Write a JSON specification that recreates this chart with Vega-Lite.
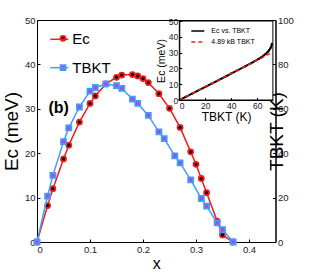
{
  "$schema": "https://vega.github.io/schema/vega-lite/v6.json",
  "padding": {"left": 2, "top": 15, "right": 0, "bottom": 0},
  "background": "white",
  "width": 238.5,
  "height": 222,
  "config": {
    "font": "Liberation Sans",
    "view": {"stroke": "black", "strokeWidth": 1},
    "axis": {"grid": false, "domainColor": "black", "tickColor": "black", "labelColor": "#222222", "titleColor": "black", "titleFontWeight": "normal", "labelFont": "Liberation Sans", "titleFont": "Liberation Sans"},
    "legend": {"labelFont": "Liberation Sans", "labelColor": "black"},
    "text": {"font": "Liberation Sans"}
  },
  "datasets": {
    "ec": [
      {"x": 0, "Ec": 0, "s": "Ec"}, {"x": 0.02, "Ec": 8.2, "s": "Ec"}, {"x": 0.03, "Ec": 12.0, "s": "Ec"},
      {"x": 0.05, "Ec": 18.7, "s": "Ec"}, {"x": 0.06, "Ec": 21.8, "s": "Ec"}, {"x": 0.08, "Ec": 27.0, "s": "Ec"},
      {"x": 0.1, "Ec": 31.2, "s": "Ec"}, {"x": 0.11, "Ec": 32.9, "s": "Ec"}, {"x": 0.13, "Ec": 35.6, "s": "Ec"},
      {"x": 0.15, "Ec": 37.1, "s": "Ec"}, {"x": 0.16, "Ec": 37.6, "s": "Ec"}, {"x": 0.18, "Ec": 37.7, "s": "Ec"},
      {"x": 0.19, "Ec": 37.4, "s": "Ec"}, {"x": 0.2, "Ec": 36.8, "s": "Ec"}, {"x": 0.21, "Ec": 35.9, "s": "Ec"},
      {"x": 0.23, "Ec": 33.4, "s": "Ec"}, {"x": 0.25, "Ec": 30.1, "s": "Ec"}, {"x": 0.27, "Ec": 25.8, "s": "Ec"},
      {"x": 0.29, "Ec": 20.3, "s": "Ec"}, {"x": 0.3, "Ec": 17.5, "s": "Ec"}, {"x": 0.31, "Ec": 14.3, "s": "Ec"},
      {"x": 0.32, "Ec": 11.1, "s": "Ec"}, {"x": 0.34, "Ec": 4.7, "s": "Ec"}, {"x": 0.35, "Ec": 1.6, "s": "Ec"},
      {"x": 0.37, "Ec": 0, "s": "Ec"}
    ],
    "tb": [
      {"x": 0, "T": 0, "s": "TBKT"}, {"x": 0.02, "T": 20.7, "s": "TBKT"}, {"x": 0.03, "T": 30.0, "s": "TBKT"},
      {"x": 0.05, "T": 45.2, "s": "TBKT"}, {"x": 0.06, "T": 51.4, "s": "TBKT"}, {"x": 0.08, "T": 60.8, "s": "TBKT"},
      {"x": 0.1, "T": 68.0, "s": "TBKT"}, {"x": 0.11, "T": 69.6, "s": "TBKT"}, {"x": 0.13, "T": 71.2, "s": "TBKT"},
      {"x": 0.15, "T": 70.4, "s": "TBKT"}, {"x": 0.16, "T": 69.2, "s": "TBKT"}, {"x": 0.18, "T": 64.4, "s": "TBKT"},
      {"x": 0.19, "T": 62.4, "s": "TBKT"}, {"x": 0.21, "T": 57.0, "s": "TBKT"}, {"x": 0.23, "T": 49.6, "s": "TBKT"},
      {"x": 0.24, "T": 46.6, "s": "TBKT"}, {"x": 0.26, "T": 38.8, "s": "TBKT"}, {"x": 0.27, "T": 35.6, "s": "TBKT"},
      {"x": 0.29, "T": 28.0, "s": "TBKT"}, {"x": 0.31, "T": 19.6, "s": "TBKT"}, {"x": 0.32, "T": 16.2, "s": "TBKT"},
      {"x": 0.34, "T": 8.6, "s": "TBKT"}, {"x": 0.35, "T": 5.6, "s": "TBKT"}, {"x": 0.37, "T": 0, "s": "TBKT"}
    ],
    "blk": [
      {"T": 0, "E": 0, "k": "Ec vs. TBKT"}, {"T": 5, "E": 2.0, "k": "Ec vs. TBKT"}, {"T": 10, "E": 4.1, "k": "Ec vs. TBKT"},
      {"T": 15, "E": 6.2, "k": "Ec vs. TBKT"}, {"T": 20, "E": 8.3, "k": "Ec vs. TBKT"}, {"T": 25, "E": 10.4, "k": "Ec vs. TBKT"},
      {"T": 30, "E": 12.5, "k": "Ec vs. TBKT"}, {"T": 35, "E": 14.6, "k": "Ec vs. TBKT"}, {"T": 40, "E": 16.8, "k": "Ec vs. TBKT"},
      {"T": 45, "E": 18.9, "k": "Ec vs. TBKT"}, {"T": 50, "E": 21.0, "k": "Ec vs. TBKT"}, {"T": 55, "E": 23.2, "k": "Ec vs. TBKT"},
      {"T": 58, "E": 24.6, "k": "Ec vs. TBKT"}, {"T": 61, "E": 26.0, "k": "Ec vs. TBKT"}, {"T": 63, "E": 27.0, "k": "Ec vs. TBKT"},
      {"T": 65, "E": 28.2, "k": "Ec vs. TBKT"}, {"T": 66.5, "E": 29.2, "k": "Ec vs. TBKT"}, {"T": 68, "E": 30.4, "k": "Ec vs. TBKT"},
      {"T": 69, "E": 31.4, "k": "Ec vs. TBKT"}, {"T": 70, "E": 32.6, "k": "Ec vs. TBKT"}, {"T": 70.7, "E": 33.8, "k": "Ec vs. TBKT"},
      {"T": 71.2, "E": 35.5, "k": "Ec vs. TBKT"}
    ],
    "fit": [
      {"T": 0, "E": 0, "k": "4.89 kB TBKT"}, {"T": 72, "E": 30.3, "k": "4.89 kB TBKT"}
    ],
    "box": [
      {"T0": 0, "T1": 72, "E0": 0, "E1": 50}
    ]
  },
  "layer": [
    {
      "layer": [
        {
          "data": {"name": "ec"},
          "encoding": {
            "x": {"field": "x", "type": "quantitative", "scale": {"domain": [0, 0.45], "nice": false},
              "axis": {"orient": "bottom", "values": [0, 0.05, 0.1, 0.15, 0.2, 0.25, 0.3, 0.35, 0.4], "format": "~g", "title": "x", "titleFontSize": 16, "titlePadding": 2, "labelFontSize": 9.5, "tickSize": -3, "labelPadding": 5}},
            "y": {"field": "Ec", "type": "quantitative", "scale": {"domain": [0, 50], "nice": false},
              "axis": {"orient": "left", "values": [0, 10, 20, 30, 40, 50], "title": "Ec (meV)", "titleFontSize": 19, "titlePadding": 3, "labelFontSize": 9.5, "tickSize": -3, "labelPadding": 5}}
          },
          "layer": [
            {"mark": {"type": "line", "strokeWidth": 1.5},
              "encoding": {"color": {"field": "s", "type": "nominal", "scale": {"range": ["#f21b1b", "#3ea0f5"]},
                "legend": {"orient": "none", "legendX": 12.3, "legendY": 9.3, "title": null, "symbolType": "stroke", "symbolSize": 324, "symbolStrokeWidth": 1.5, "labelFontSize": 15, "labelOffset": 3, "rowPadding": 10.4, "padding": 0}}}},
            {"mark": {"type": "point", "filled": true, "size": 25, "strokeWidth": 1.8, "opacity": 1},
              "encoding": {
                "shape": {"field": "s", "type": "nominal", "scale": {"domain": ["Ec", "TBKT"], "range": ["circle", "square"]},
                  "legend": {"orient": "none", "legendX": 18.5, "legendY": 10.8, "title": null, "symbolSize": 25, "symbolStrokeWidth": 1.8, "labelFontSize": 15, "labelOpacity": 0, "rowPadding": 13.4, "padding": 0}},
                "fill": {"field": "s", "type": "nominal", "scale": {"domain": ["Ec", "TBKT"], "range": ["black", "#b440e8"]}},
                "stroke": {"field": "s", "type": "nominal", "scale": {"domain": ["Ec", "TBKT"], "range": ["#f21b1b", "#3ea0f5"]}}
              }}
          ]
        },
        {
          "data": {"name": "tb"},
          "encoding": {
            "x": {"field": "x", "type": "quantitative"},
            "y": {"field": "T", "type": "quantitative", "scale": {"domain": [0, 100], "nice": false},
              "axis": {"orient": "right", "values": [0, 20, 40, 60, 80, 100], "title": "TBKT (K)", "titleFontSize": 19, "titleAngle": 270, "titlePadding": -7, "labelFontSize": 9.5, "tickSize": -3, "labelPadding": 5}}
          },
          "layer": [
            {"mark": {"type": "line", "strokeWidth": 1.5}, "encoding": {"color": {"field": "s", "type": "nominal"}}},
            {"mark": {"type": "point", "filled": true, "size": 25, "strokeWidth": 1.8, "opacity": 1},
              "encoding": {
                "shape": {"field": "s", "type": "nominal"},
                "fill": {"field": "s", "type": "nominal"},
                "stroke": {"field": "s", "type": "nominal"}
              }}
          ]
        },
        {
          "data": {"values": [{"x": 0.041, "y": 30.2, "t": "(b)"}]},
          "mark": {"type": "text", "fontWeight": "bold", "fontSize": 16, "align": "center", "baseline": "middle"},
          "encoding": {
            "x": {"field": "x", "type": "quantitative"},
            "y": {"field": "y", "type": "quantitative", "scale": {"domain": [0, 50]}, "axis": null},
            "text": {"field": "t"}
          }
        }
      ],
      "resolve": {"scale": {"y": "independent"}}
    },
    {
      "layer": [
        {"data": {"name": "box"}, "mark": {"type": "rect", "fill": "white", "stroke": "black", "strokeWidth": 1},
          "encoding": {
            "x": {"field": "T0", "type": "quantitative", "scale": {"domain": [0, 72], "nice": false, "range": [142.3, 235.9]},
              "axis": {"orient": "bottom", "offset": -142, "zindex": 1, "values": [0, 20, 40, 60], "title": "TBKT (K)", "titleFontSize": 12, "titlePadding": 1, "labelFontSize": 8.5, "tickSize": -2.5, "labelPadding": 4}},
            "x2": {"field": "T1"},
            "y": {"field": "E0", "type": "quantitative", "scale": {"domain": [0, 50], "nice": false, "range": [80, 1]},
              "axis": {"orient": "left", "offset": -142.3, "zindex": 1, "values": [0, 10, 20, 30, 40, 50], "title": "Ec (meV)", "titleFontSize": 10.5, "titlePadding": 2, "labelFontSize": 8.5, "tickSize": -2.5, "labelPadding": 4}},
            "y2": {"field": "E1"}
          }},
        {"data": {"name": "blk"}, "mark": {"type": "line", "strokeWidth": 2},
          "encoding": {
            "x": {"field": "T", "type": "quantitative"},
            "y": {"field": "E", "type": "quantitative"},
            "color": {"field": "k", "type": "nominal", "scale": {"domain": ["Ec vs. TBKT", "4.89 kB TBKT"], "range": ["black", "#ff1a1a"]},
              "legend": {"orient": "none", "legendX": 153.3, "legendY": 3.5, "title": null, "symbolType": "stroke", "symbolSize": 169, "symbolStrokeWidth": 1.5, "labelFontSize": 7, "labelOffset": 6, "rowPadding": -2, "padding": 0}},
            "strokeDash": {"field": "k", "type": "nominal", "scale": {"domain": ["Ec vs. TBKT", "4.89 kB TBKT"], "range": [[1, 0], [4, 3]]}}
          }},
        {"data": {"name": "blk"}, "mark": {"type": "point", "filled": true, "size": 5, "color": "black", "opacity": 1},
          "encoding": {
            "x": {"field": "T", "type": "quantitative"},
            "y": {"field": "E", "type": "quantitative"}
          }},
        {"data": {"name": "fit"}, "mark": {"type": "line", "strokeWidth": 1.5},
          "encoding": {
            "x": {"field": "T", "type": "quantitative"},
            "y": {"field": "E", "type": "quantitative"},
            "color": {"field": "k", "type": "nominal"},
            "strokeDash": {"field": "k", "type": "nominal"}
          }}
      ]
    }
  ],
  "resolve": {
    "scale": {"x": "independent", "y": "independent", "color": "independent", "strokeDash": "independent"},
    "legend": {"color": "independent", "strokeDash": "independent"}
  }
}
